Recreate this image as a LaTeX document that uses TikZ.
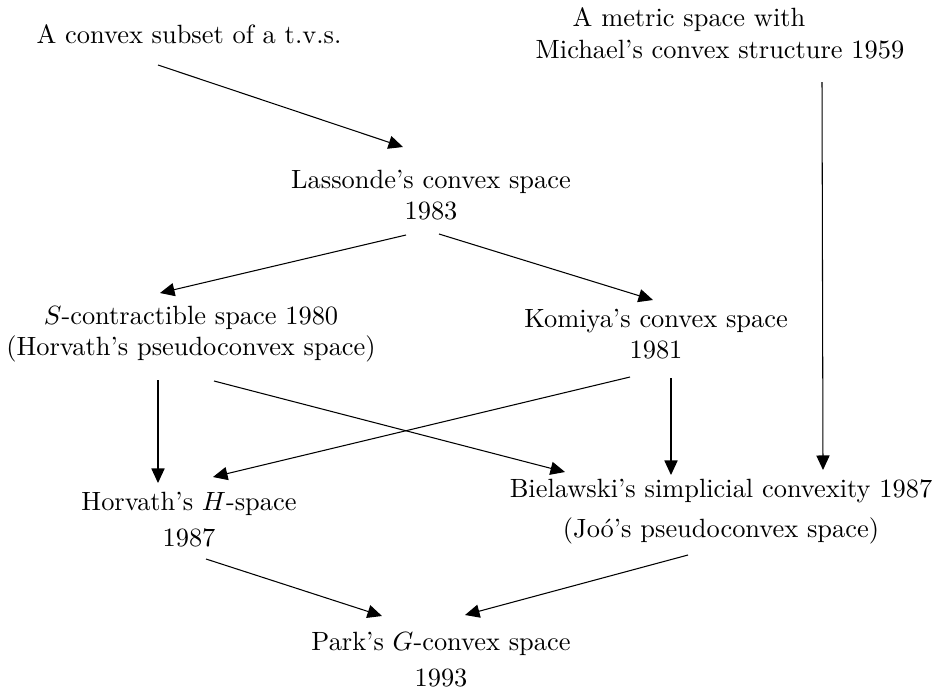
\documentclass[tikz,border=0pt]{standalone}
\usepackage{tikz}
\usetikzlibrary{arrows.meta}

\begin{document}
\begin{tikzpicture}[
  x=0.3788pt, y=-0.3788pt,
  space/.style={align=center, inner sep=0pt},
  arrow/.style={-{Triangle[length=5.5pt, width=5pt]}},
]
  \useasboundingbox (0,0) rectangle (936,692);
  % Top row
  \node[space] (tvs)    at (189,34)  {A convex subset of a t.v.s.};
  \node[space, align=left] (metric) at (720,33)
    {\hspace*{14pt}A metric space with\\Michael's convex structure 1959};
  % Lassonde
  \node[space] (lass)   at (431,195) {Lassonde's convex space\\1983};
  % Middle row
  \node[space] (scon)   at (191,334) {$S$-contractible space 1980\\(Horvath's pseudoconvex space)};
  \node[space] (komiya) at (656,334) {Komiya's convex space\\1981};
  % Lower row
  \node[space] (hspace) at (189,520) {Horvath's $H$-space\\[1.6pt]1987};
  \node[space] (biel)   at (721,512) {Bielawski's simplicial convexity 1987\\[3.2pt](Jo\'o's pseudoconvex space)};
  % Park
  \node[space] (park)   at (441,660) {Park's $G$-convex space\\[1.6pt]1993};

  % Arrows
  \draw[arrow] ([shift={(-31,31)}]tvs.center)    -- ([shift={(-28,-48)}]lass.center);
  \draw[arrow] ([shift={(102,49)}]metric.center) -- ([shift={(102,-42)}]biel.center);
  \draw[arrow] ([shift={(-25,40)}]lass.center)   -- ([shift={(-31,-41)}]scon.center);
  \draw[arrow] ([shift={(8,39)}]lass.center)     -- ([shift={(-3,-34)}]komiya.center);
  \draw[arrow] ([shift={(-33,46)}]scon.center)   -- ([shift={(-31,-37)}]hspace.center);
  \draw[arrow] ([shift={(23,47)}]scon.center)    -- ([shift={(-156,-40)}]biel.center);
  \draw[arrow] ([shift={(-26,43)}]komiya.center) -- ([shift={(24,-43)}]hspace.center);
  \draw[arrow] ([shift={(15,44)}]komiya.center)  -- ([shift={(-50,-37)}]biel.center);
  \draw[arrow] ([shift={(17,39)}]hspace.center)  -- ([shift={(-59,-44)}]park.center);
  \draw[arrow] ([shift={(-33,43)}]biel.center)   -- ([shift={(24,-45)}]park.center);
\end{tikzpicture}
\end{document}
